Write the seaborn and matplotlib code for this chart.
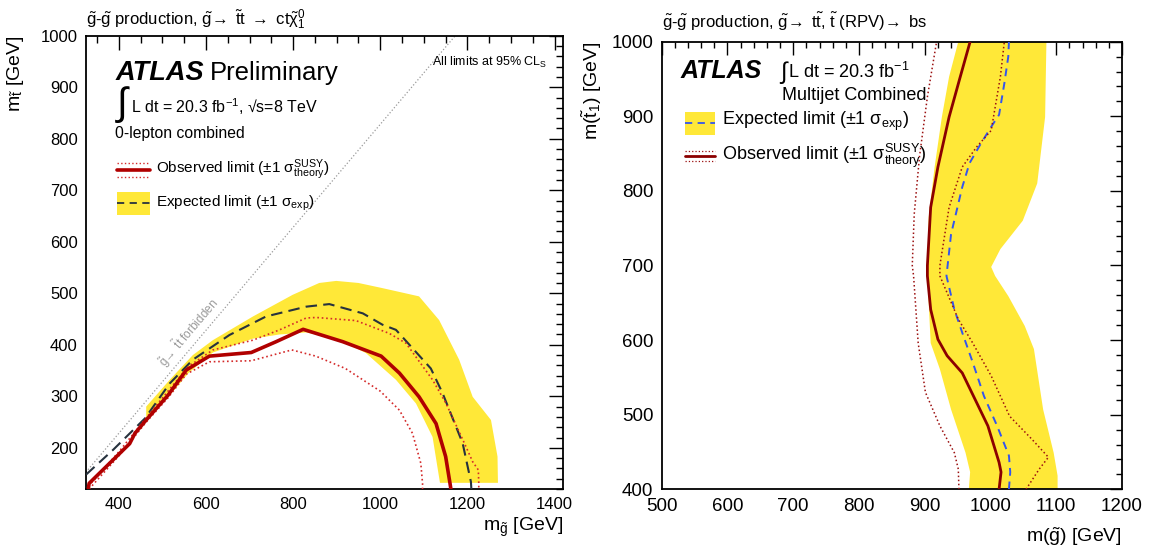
import numpy as np
import matplotlib
matplotlib.use('Agg')
import matplotlib.pyplot as plt
import seaborn as sns
from matplotlib.ticker import MultipleLocator
from matplotlib.lines import Line2D
from matplotlib.patches import Rectangle

sns.set_theme(style='white')
plt.rcParams['font.family'] = ['Liberation Sans', 'DejaVu Sans']
plt.rcParams['mathtext.fontset'] = 'custom'
plt.rcParams['mathtext.rm'] = 'Liberation Sans'
plt.rcParams['mathtext.it'] = 'Liberation Sans:italic'
plt.rcParams['mathtext.bf'] = 'Liberation Sans:bold'
plt.rcParams['mathtext.default'] = 'regular'
plt.rcParams['text.color'] = 'black'
plt.rcParams['axes.labelcolor'] = 'black'

# ---- left panel: gluino -> stop top, stop -> c chi0 ----
obs_mg = [330, 332, 402, 425, 437, 463, 513, 555, 608, 704, 761, 823, 914, 1002, 1044, 1089, 1128, 1150, 1160, 1162]
obs_mt = [120, 131, 189, 208, 228, 254, 302, 351, 378, 385, 406, 430, 406, 378, 345, 299, 247, 183, 131, 120]

obs_up_mg = [330, 400, 463, 513, 560, 616, 708, 769, 830, 853, 944, 1021, 1059, 1120, 1151, 1193, 1212, 1225, 1226, 1226]
obs_up_mt = [125, 192, 258, 310, 358, 390, 409, 429, 452, 453, 447, 422, 403, 332, 286, 209, 173, 157, 131, 120]

obs_dn_mg = [332, 402, 463, 513, 555, 608, 704, 797, 852, 920, 1000, 1044, 1074, 1093, 1097, 1097]
obs_dn_mt = [120, 186, 250, 297, 343, 367, 369, 390, 378, 354, 310, 273, 228, 170, 131, 120]

exp_mg = [325, 387, 460, 517, 570, 654, 738, 830, 883, 960, 1005, 1036, 1116, 1143, 1189, 1208, 1209]
exp_mt = [148, 196, 257, 325, 371, 419, 455, 474, 479, 461, 439, 429, 354, 306, 209, 134, 120]

band_up_mg = [463, 517, 570, 616, 708, 799, 860, 899, 950, 1005, 1089, 1135, 1181, 1212, 1254, 1269, 1270]
band_up_mt = [280, 332, 380, 409, 455, 497, 520, 524, 520, 510, 494, 448, 371, 299, 254, 183, 132]
band_lo_mg = [1137, 1120, 1082, 1036, 967, 914, 876, 830, 769, 708, 616, 560, 520, 463]
band_lo_mt = [132, 221, 286, 332, 384, 406, 416, 424, 420, 412, 385, 345, 305, 254]

forbid_mg = [300, 1300]
m_top = 172

# ---- right panel: gluino -> stop top, stop (RPV) -> bs ----
r_obs_mt = [400, 423, 436, 485, 516, 556, 579, 601, 641, 686, 700, 778, 832, 899, 953, 1000]
r_obs_mg = [1013, 1016, 1013, 996, 979, 957, 934, 920, 909, 904, 904, 909, 920, 937, 954, 969]

r_exp_mt = [400, 423, 445, 485, 525, 570, 610, 641, 686, 742, 805, 837, 863, 890, 902, 944, 980, 1000]
r_exp_mg = [1028, 1030, 1028, 1010, 990, 973, 957, 945, 933, 940, 957, 968, 985, 1004, 1013, 1021, 1027, 1028]

r_up_mt = [400, 427, 443, 467, 498, 552, 596, 628, 686, 700, 778, 832, 859, 881, 953, 1000]
r_up_mg = [1054, 1074, 1088, 1063, 1029, 1001, 973, 951, 923, 923, 937, 957, 979, 1001, 1015, 1021]

r_dn_mt = [400, 427, 449, 485, 530, 596, 686, 700, 769, 846, 926, 1000]
r_dn_mg = [952, 951, 945, 923, 901, 890, 883, 881, 884, 892, 904, 918]

r_band_l_mt = [400, 423, 449, 507, 561, 596, 686, 700, 765, 832, 899, 953, 1000]
r_band_l_mg = [967, 969, 962, 940, 923, 909, 904, 904, 906, 915, 926, 937, 951]
r_band_r_mt = [400, 418, 449, 507, 588, 619, 659, 686, 698, 722, 760, 810, 899, 1000]
r_band_r_mg = [1102, 1102, 1096, 1080, 1066, 1052, 1027, 1007, 1001, 1015, 1049, 1071, 1083, 1085]

yellow = '#FFE838'

fig = plt.figure(figsize=(11.52, 5.52), dpi=100)
ax1 = fig.add_axes([0.0747, 0.1141, 0.4143, 0.8212])
ax2 = fig.add_axes([0.5744, 0.1136, 0.3996, 0.8109])

# left panel
ax = ax1
ax.fill(np.concatenate([band_up_mg, band_lo_mg]), np.concatenate([band_up_mt, band_lo_mt]),
        color=yellow, lw=0, zorder=1)
fm = np.array(forbid_mg)
sns.lineplot(x=fm, y=fm - m_top, ax=ax, color='#9a9a9a', linestyle=':', linewidth=0.9, zorder=2)
sns.lineplot(x=exp_mg, y=exp_mt, sort=False, estimator=None, ax=ax, color='#27323e',
             linestyle=(0, (5.5, 3)), linewidth=1.5, zorder=3)
sns.lineplot(x=obs_up_mg, y=obs_up_mt, sort=False, estimator=None, ax=ax, color='#d42a2a',
             linestyle=':', linewidth=1.2, zorder=4)
sns.lineplot(x=obs_dn_mg, y=obs_dn_mt, sort=False, estimator=None, ax=ax, color='#d42a2a',
             linestyle=':', linewidth=1.2, zorder=4)
sns.lineplot(x=obs_mg, y=obs_mt, sort=False, estimator=None, ax=ax, color='#b00000',
             linewidth=2.6, zorder=5)
ax.set_xlim(325, 1420)
ax.set_ylim(120, 1000)
ax.xaxis.set_major_locator(MultipleLocator(200))
ax.xaxis.set_minor_locator(MultipleLocator(50))
ax.yaxis.set_major_locator(MultipleLocator(100))
ax.yaxis.set_minor_locator(MultipleLocator(20))
ax.tick_params(which='both', direction='in', top=True, right=True, color='black', width=1)
ax.tick_params(which='major', length=10, labelsize=12, pad=6)
ax.tick_params(which='minor', length=5)
ax.set_xlabel(r'$m_{\tilde{g}}$ [GeV]', fontsize=14, loc='right')
ax.set_ylabel(r'$m_{\tilde{t}}$ [GeV]', fontsize=14, loc='top')
ax.xaxis.set_label_coords(1.0, -0.06)
ax.yaxis.set_label_coords(-0.125, 1.0)
ax.text(560, 424, r'$\tilde{g}\!\rightarrow\ \tilde{t}t$ forbidden', color='#9a9a9a', fontsize=8.5,
        rotation=49.7, rotation_mode='anchor', ha='center', va='center', zorder=6)
ax.text(0.0, 1.025, r'$\tilde{g}$-$\tilde{g}$ production, $\tilde{g}\!\rightarrow\ \tilde{t}t\ \rightarrow\ ct\tilde{\chi}^{0}_{1}$',
        transform=ax.transAxes, fontsize=12, ha='left', va='baseline')
ax.text(0.061, 0.902, 'ATLAS', transform=ax.transAxes, fontsize=19.5, fontweight='bold',
        style='italic', va='baseline')
ax.text(0.260, 0.902, 'Preliminary', transform=ax.transAxes, fontsize=18.5, va='baseline')
ax.text(0.075, 0.847, '\u222b', transform=ax.transAxes, fontsize=28, ha='center', va='center')
ax.text(0.095, 0.829, 'L dt = 20.3 fb$^{-1}$, \u221as=8 TeV', transform=ax.transAxes,
        fontsize=11.5, va='baseline')
ax.text(0.061, 0.774, '0-lepton combined', transform=ax.transAxes, fontsize=11.3, va='baseline')
ax.text(0.967, 0.934, 'All limits at 95% CL$_S$', transform=ax.transAxes, fontsize=9,
        ha='right', va='baseline')
# legend
ax.add_line(Line2D([0.065, 0.135], [0.704, 0.704], transform=ax.transAxes, color='#b00000', lw=2.6))
for yy in (0.719, 0.689):
    ax.add_line(Line2D([0.065, 0.135], [yy, yy], transform=ax.transAxes, color='#d42a2a', lw=1.0, ls=':'))
ax.text(0.147, 0.704, r'Observed limit (±1 $\sigma^{SUSY}_{theory}$)', transform=ax.transAxes,
        fontsize=11, va='center')
ax.add_patch(Rectangle((0.065, 0.604), 0.07, 0.052, transform=ax.transAxes, color=yellow, lw=0))
ax.add_line(Line2D([0.065, 0.135], [0.630, 0.630], transform=ax.transAxes, color='#27323e',
                   lw=1.3, ls=(0, (4, 3))))
ax.text(0.147, 0.630, r'Expected limit (±1 $\sigma_{exp}$)', transform=ax.transAxes,
        fontsize=11, va='center')

# right panel
ax = ax2
ax.fill(np.concatenate([r_band_l_mg, r_band_r_mg[::-1]]), np.concatenate([r_band_l_mt, r_band_r_mt[::-1]]),
        color=yellow, lw=0, zorder=1)
sns.lineplot(x=r_exp_mg, y=r_exp_mt, sort=False, estimator=None, ax=ax, color='#3355ee',
             linestyle=(0, (4, 3)), linewidth=1.4, zorder=3)
sns.lineplot(x=r_up_mg, y=r_up_mt, sort=False, estimator=None, ax=ax, color='#9b1010',
             linestyle=':', linewidth=1.1, zorder=4)
sns.lineplot(x=r_dn_mg, y=r_dn_mt, sort=False, estimator=None, ax=ax, color='#9b1010',
             linestyle=':', linewidth=1.1, zorder=4)
sns.lineplot(x=r_obs_mg, y=r_obs_mt, sort=False, estimator=None, ax=ax, color='#8b0000',
             linewidth=2.0, zorder=5)
ax.set_xlim(500, 1200)
ax.set_ylim(400, 1000)
ax.xaxis.set_major_locator(MultipleLocator(100))
ax.xaxis.set_minor_locator(MultipleLocator(20))
ax.yaxis.set_major_locator(MultipleLocator(100))
ax.yaxis.set_minor_locator(MultipleLocator(20))
ax.tick_params(which='both', direction='in', top=True, right=True, color='black', width=1)
ax.tick_params(which='major', length=9, labelsize=13.5, pad=6)
ax.tick_params(which='minor', length=4.5)
ax.set_xlabel(r'm($\tilde{g}$) [GeV]', fontsize=14, loc='right')
ax.set_ylabel(r'm($\tilde{t}_1$) [GeV]', fontsize=14, loc='top')
ax.xaxis.set_label_coords(1.0, -0.08)
ax.yaxis.set_label_coords(-0.125, 1.0)
ax.text(0.0, 1.03, r'$\tilde{g}$-$\tilde{g}$ production, $\tilde{g}\!\rightarrow$ t$\tilde{t}$, $\tilde{t}$ (RPV)$\!\rightarrow$ bs',
        transform=ax.transAxes, fontsize=12, ha='left', va='baseline')
ax.text(0.040, 0.918, 'ATLAS', transform=ax.transAxes, fontsize=18, fontweight='bold',
        style='italic', va='baseline')
ax.text(0.264, 0.931, '\u222b', transform=ax.transAxes, fontsize=17, ha='center', va='center')
ax.text(0.275, 0.918, r'L dt = 20.3 fb$^{-1}$', transform=ax.transAxes, fontsize=13, va='baseline')
ax.text(0.261, 0.870, 'Multijet Combined', transform=ax.transAxes, fontsize=13, va='baseline')
ax.add_patch(Rectangle((0.051, 0.792), 0.065, 0.052, transform=ax.transAxes, color=yellow, lw=0))
ax.add_line(Line2D([0.051, 0.116], [0.818, 0.818], transform=ax.transAxes, color='#3355ee',
                   lw=1.3, ls=(0, (4, 3))))
ax.text(0.130, 0.822, r'Expected limit (±1 $\sigma_{exp}$)', transform=ax.transAxes,
        fontsize=13, va='center')
ax.add_line(Line2D([0.051, 0.116], [0.745, 0.745], transform=ax.transAxes, color='#8b0000', lw=2.0))
for yy in (0.756, 0.734):
    ax.add_line(Line2D([0.051, 0.116], [yy, yy], transform=ax.transAxes, color='#9b1010', lw=0.9, ls=':'))
ax.text(0.130, 0.746, r'Observed limit (±1 $\sigma^{SUSY}_{theory}$)', transform=ax.transAxes,
        fontsize=13, va='center')

for a in (ax1, ax2):
    for s in a.spines.values():
        s.set_color('black')
        s.set_linewidth(1.3)
    a.tick_params(labelcolor='black')

fig.savefig('out.png', dpi=100)
